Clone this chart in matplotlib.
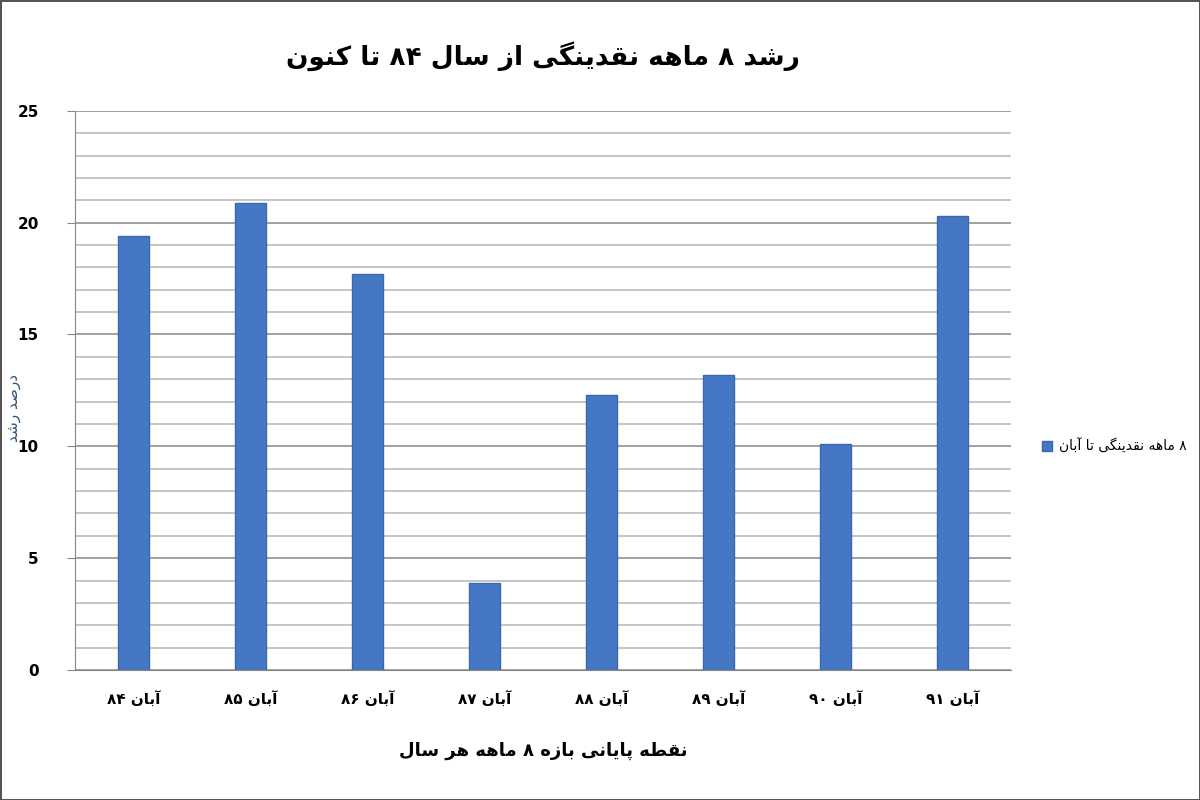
import numpy as np
import matplotlib
matplotlib.use('Agg')
import matplotlib.pyplot as plt
from matplotlib.ticker import MultipleLocator

# data
years = ['۸۴', '۸۵', '۸۶', '۸۷', '۸۸', '۸۹', '۹۰', '۹۱']
growth = [19.4, 20.9, 17.7, 3.9, 12.3, 13.2, 10.1, 20.3]

title_txt = 'رشد ۸ ماهه نقدینگی از سال ۸۴ تا کنون'
xlabel_txt = 'نقطه پایانی بازه ۸ ماهه هر سال'
ylabel_txt = 'درصد رشد'
legend_txt = '۸ ماهه نقدینگی تا آبان'
month = 'آبان'

# matplotlib has no arabic shaping, so do a small one by hand
# (isolated, final, initial, medial)
FORMS = {
    'ا': ('\uFE8D', '\uFE8E', None, None),
    'آ': ('\uFE81', '\uFE82', None, None),
    'د': ('\uFEA9', '\uFEAA', None, None),
    'ر': ('\uFEAD', '\uFEAE', None, None),
    'ز': ('\uFEAF', '\uFEB0', None, None),
    'و': ('\uFEED', '\uFEEE', None, None),
    'ب': ('\uFE8F', '\uFE90', '\uFE91', '\uFE92'),
    'پ': ('\uFB56', '\uFB57', '\uFB58', '\uFB59'),
    'ت': ('\uFE95', '\uFE96', '\uFE97', '\uFE98'),
    'س': ('\uFEB1', '\uFEB2', '\uFEB3', '\uFEB4'),
    'ش': ('\uFEB5', '\uFEB6', '\uFEB7', '\uFEB8'),
    'ص': ('\uFEB9', '\uFEBA', '\uFEBB', '\uFEBC'),
    'ط': ('\uFEC1', '\uFEC2', '\uFEC3', '\uFEC4'),
    'ق': ('\uFED5', '\uFED6', '\uFED7', '\uFED8'),
    'ک': ('\uFB8E', '\uFB8F', '\uFB90', '\uFB91'),
    'گ': ('\uFB92', '\uFB93', '\uFB94', '\uFB95'),
    'ل': ('\uFEDD', '\uFEDE', '\uFEDF', '\uFEE0'),
    'م': ('\uFEE1', '\uFEE2', '\uFEE3', '\uFEE4'),
    'ن': ('\uFEE5', '\uFEE6', '\uFEE7', '\uFEE8'),
    'ه': ('\uFEE9', '\uFEEA', '\uFEEB', '\uFEEC'),
    'ی': ('\uFBFC', '\uFBFD', '\uFBFE', '\uFBFF'),
}


def fa(s):
    out = []
    for i, c in enumerate(s):
        if c not in FORMS:
            out.append(c)
            continue
        prev = s[i - 1] if i > 0 else ''
        nxt = s[i + 1] if i + 1 < len(s) else ''
        j_prev = prev in FORMS and FORMS[prev][2] is not None
        j_next = FORMS[c][2] is not None and nxt in FORMS
        if j_prev and j_next:
            out.append(FORMS[c][3])
        elif j_prev:
            out.append(FORMS[c][1])
        elif j_next:
            out.append(FORMS[c][2])
        else:
            out.append(FORMS[c][0])
    # right to left: reverse, but keep digit runs in their own order
    vis = ''.join(out)[::-1]
    res, run = '', ''
    for c in vis:
        if '\u06F0' <= c <= '\u06F9':
            run += c
        else:
            res += run[::-1] + c
            run = ''
    return res + run[::-1]


plt.rcParams['font.family'] = ['DejaVu Sans']

fig = plt.figure(figsize=(12, 8), dpi=100)
fig.patch.set_edgecolor('#555555')
fig.patch.set_linewidth(2)
ax = fig.add_axes([0.0625, 0.1625, 0.78, 0.699])

x = np.arange(len(years))
ax.bar(x, growth, width=0.26, color='#4677C4', edgecolor='#3A68B0', linewidth=1,
       zorder=3, label=fa(legend_txt))

ax.set_xlim(-0.5, len(years) - 0.5)
ax.set_ylim(0, 25)
ax.yaxis.set_major_locator(MultipleLocator(5))
ax.yaxis.set_minor_locator(MultipleLocator(1))
ax.grid(axis='y', which='major', color='#9a9a9a', linewidth=1.3, zorder=0)
ax.grid(axis='y', which='minor', color='#b5b5b5', linewidth=1.1, zorder=0)

for s in ['top', 'right']:
    ax.spines[s].set_visible(False)
ax.spines['left'].set_color('#888888')
ax.spines['bottom'].set_color('#888888')
ax.tick_params(axis='y', which='major', length=6, color='#888888', labelsize=11, pad=20)
ax.tick_params(axis='y', which='minor', length=0)
ax.tick_params(axis='x', length=0, labelsize=11, pad=16)

ax.set_xticks(x)
ax.set_xticklabels([fa(month + ' ' + y) for y in years], fontweight='bold')
for t in ax.get_yticklabels():
    t.set_fontweight('bold')

ax.set_title(fa(title_txt), fontsize=19, fontweight='bold', pad=33)
ax.set_xlabel(fa(xlabel_txt), fontsize=13, fontweight='bold', labelpad=24)
fig.text(0.011, 0.49, fa(ylabel_txt), rotation=90, fontsize=11, color='#33557a',
         ha='center', va='center')

ax.legend(loc='center left', bbox_to_anchor=(1.02, 0.40), frameon=False,
          fontsize=10, handlelength=0.7, handleheight=0.7, handletextpad=0.5)

fig.savefig('out.png', dpi=100)
